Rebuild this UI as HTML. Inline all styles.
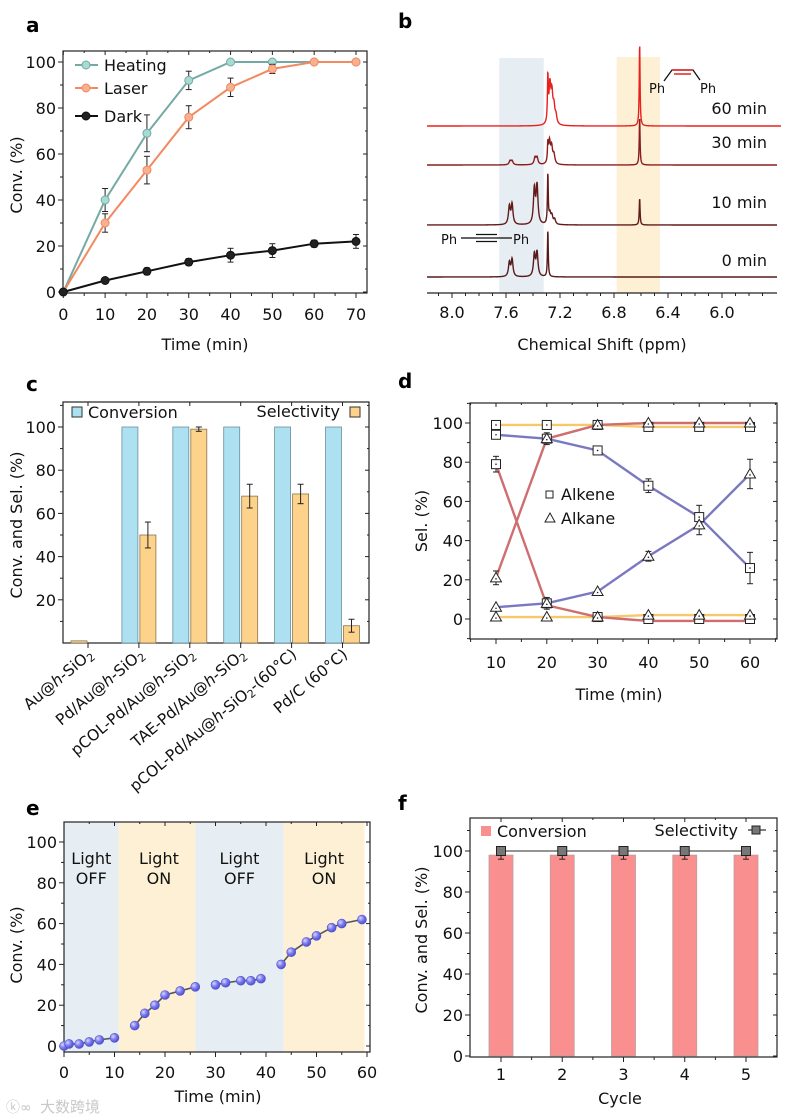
<!DOCTYPE html>
<html><head><meta charset="utf-8">
<style>
html,body{margin:0;padding:0;background:#fff;}
svg{display:block;font-family:"DejaVu Sans","Liberation Sans","Noto Sans CJK SC",sans-serif;}
</style></head>
<body>
<svg id="fig" width="797" height="1120" viewBox="0 0 797 1120" xmlns="http://www.w3.org/2000/svg"></svg>
<script>
// ---------- data: panel a ----------
const aTime=[0,10,20,30,40,50,60,70];
const aHeating=[0,40,69,92,100,100,100,100];
const aHeatErr=[0,5,8,4,0,0,0,0];
const aLaser=[0,30,53,76,89,97,100,100];
const aLaserErr=[0,4,6,5,4,2,0,0];
const aDark=[0,5,9,13,16,18,21,22];
const aDarkErr=[0,1,1.5,1.5,3,3,1.5,3];
const aXTicks=[0,10,20,30,40,50,60,70];
const aYTicks=[0,20,40,60,80,100];
// ---------- data: panel b (peaks: ppm, height) ----------
const bLabels=['60 min','30 min','10 min','0 min'];
const bOffsets=[126,165,225,277];
const bPeaks60=[[7.29,45],[7.275,38],[7.26,28],[7.245,16],[7.23,8],[6.61,83]];
const bPeaks30=[[7.29,18],[7.278,22],[7.262,16],[7.245,9],[7.57,4],[7.555,4],[7.385,7],[7.37,7],[6.61,48]];
const bPeaks10=[[7.29,50],[7.275,10],[7.26,8],[7.24,5],[7.575,18],[7.555,20],[7.39,35],[7.37,38],[6.61,27]];
const bPeaks0=[[7.29,47],[7.575,14],[7.555,17],[7.39,22],[7.37,24]];
const bXTicks=[8.0,7.6,7.2,6.8,6.4,6.0];
const bNarrow=[7.29,6.61];
// ---------- data: panel c ----------
const cCats=['Au@h-SiO2','Pd/Au@h-SiO2','pCOL-Pd/Au@h-SiO2','TAE-Pd/Au@h-SiO2','pCOL-Pd/Au@h-SiO2-(60°C)','Pd/C (60°C)'];
const cConv=[1,100,100,100,100,100];
const cSel=[0,50,99,68,69,8];
const cSelErr=[0,6,1,5.5,4.5,3];
const cYTicks=[20,40,60,80,100];
// ---------- data: panel d ----------
const dTime=[10,20,30,40,50,60];
const dYellowAlkene=[99,99,99,98,98,98];
const dYellowAlkane=[1,1,1,2,2,2];
const dRedAlkane=[21,92,99,100,100,100];
const dRedAlkaneErr=[3.5,3,0,0,0,0];
const dRedAlkene=[79,7,1,-1,-1,-1];
const dRedAlkeneMarks=[79,8,1,0,0,0];
const dRedAlkeneErr=[4,3,0,0,0,0];
const dBlueAlkene=[94,92,86,68,52,26];
const dBlueAlkeneErr=[0,0,1,3.5,6,8];
const dBlueAlkane=[6,8,14,32,48,74];
const dBlueAlkaneErr=[0,0,0,2.5,5,7.5];
const dYTicks=[0,20,40,60,80,100];
// ---------- data: panel e ----------
const eSegT=[[0,1,3,5,7,10],[14,16,18,20,23,26],[30,32,35,37,39],[43,45,48,50,53,55,59]];
const eSegV=[[0,1,1,2,3,4],[10,16,20,25,27,29],[30,31,32,32,33],[40,46,51,54,58,60,62]];
const eBands=[[0,10.8,'off'],[10.8,26,'on'],[26,43.5,'off'],[43.5,59.5,'on']];
const eXTicks=[0,10,20,30,40,50,60];
const eYTicks=[0,20,40,60,80,100];
// ---------- data: panel f ----------
const fCycle=[1,2,3,4,5];
const fConv=[98,98,98,98,98];
const fConvErr=[2,2,2,2,2];
const fSel=[100,100,100,100,100];
const fYTicks=[0,20,40,60,80,100];

const NS='http://www.w3.org/2000/svg';
const svg=document.getElementById('fig');
function E(tag,a,p){const el=document.createElementNS(NS,tag);for(const k in a)el.setAttribute(k,a[k]);(p||svg).appendChild(el);return el;}
function T(txt,a,p){const el=E('text',a,p);el.textContent=txt;return el;}
function lin(d0,d1,r0,r1){return v=>r0+(v-d0)*(r1-r0)/(d1-d0);}
const FS=16;

function panelLetter(ch,x,y){const t=T(ch,{x:x,y:y,'font-size':20,'font-weight':'bold',fill:'#000'});

}

function frame(g,x0,y0,x1,y1){const r=E('rect',{x:x0,y:y0,width:x1-x0,height:y1-y0,fill:'none',stroke:'#222','stroke-width':1.2},g);

}

function yAxis(g,sy,x0,x1,ticks,minor,labels){
  const ag=E('g',{},g);
  
  
  ticks.forEach(v=>{const y=sy(v);E('line',{x1:x0-5,y1:y,x2:x0,y2:y,stroke:'#222'},ag);E('line',{x1:x1,y1:y,x2:x1-4,y2:y,stroke:'#222'},ag);
    if(labels){const t=T(String(v),{x:x0-7,y:y+6,'font-size':FS,'text-anchor':'end',fill:'#111'},ag);
    
    }});
  minor.forEach(v=>{const y=sy(v);E('line',{x1:x0-3,y1:y,x2:x0,y2:y,stroke:'#222'},ag);E('line',{x1:x1,y1:y,x2:x1-2,y2:y,stroke:'#222'},ag);});
}
function xAxis(g,sx,y0,y1,ticks,minor,ly,fmt){
  const ag=E('g',{},g);
  
  
  ticks.forEach(v=>{const x=sx(v);E('line',{x1:x,y1:y0,x2:x,y2:y0+5,stroke:'#222'},ag);if(y1!==null)E('line',{x1:x,y1:y1,x2:x,y2:y1+4,stroke:'#222'},ag);
    if(ly){const t=T(fmt?fmt(v):String(v),{x:x,y:ly,'font-size':FS,'text-anchor':'middle',fill:'#111'},ag);
    
    }});
  minor.forEach(v=>{const x=sx(v);E('line',{x1:x,y1:y0,x2:x,y2:y0+3,stroke:'#222'},ag);if(y1!==null)E('line',{x1:x,y1:y1,x2:x,y2:y1+2,stroke:'#222'},ag);});
}
function title(g,txt,x,y,rot,name){const t=T(txt,{x:x,y:y,'font-size':FS,'text-anchor':'middle',fill:'#111',transform:rot?`rotate(-90 ${x} ${y})`:''},g);

return t;}
function errBar(g,x,y1,y2,w){E('line',{x1:x,y1:y1,x2:x,y2:y2,stroke:'#222','stroke-width':1},g);E('line',{x1:x-w,y1:y1,x2:x+w,y2:y1,stroke:'#222'},g);E('line',{x1:x-w,y1:y2,x2:x+w,y2:y2,stroke:'#222'},g);}
function range(a,b,s){const r=[];for(let v=a;v<=b+1e-9;v+=s)r.push(+v.toFixed(4));return r;}

// ================= Panel a =================
(function(){
const g=E('g',{});


panelLetter('a',26,32);
const sx=lin(0,70,63.3,356),sy=lin(0,100,292,62);
frame(g,63,51,367,293);
yAxis(g,sy,63,367,aYTicks,range(10,110,20).filter(v=>sy(v)>51),true);
xAxis(g,sx,293,51,aXTicks,range(5,65,10),320);
title(g,'Time (min)',205,350,false,'x-axis-title');
title(g,'Conv. (%)',22,175,true,'y-axis-title');
const series=[[aHeating,aHeatErr,'#74a9a4','#a6dcd4','heating'],[aLaser,aLaserErr,'#f2895f','#f8b090','laser'],[aDark,aDarkErr,'#111','#222','dark']];
series.forEach(([vals,errs,col,fill,nm])=>{
  const sg=E('g',{},g);
  
  
  vals.forEach((v,i)=>{if(errs[i]>0)errBar(sg,sx(aTime[i]),sy(v+errs[i]),sy(v-errs[i]),3);});
  const pl=E('polyline',{points:vals.map((v,i)=>sx(aTime[i])+','+sy(v)).join(' '),fill:'none',stroke:col,'stroke-width':2},sg);
  
  
  vals.forEach((v,i)=>{const c=E('circle',{cx:sx(aTime[i]),cy:sy(v),r:4,fill:fill,stroke:col,'stroke-width':1},sg);
  
  });
});
const leg=[['Heating','#74a9a4','#a6dcd4',65],['Laser','#f2895f','#f8b090',88],['Dark','#111','#222',116]];
leg.forEach(([t,c,f,y])=>{const lg=E('g',{},g);
  
  
  E('line',{x1:75,y1:y,x2:98,y2:y,stroke:c,'stroke-width':2},lg);E('circle',{cx:86,cy:y,r:4,fill:f,stroke:c},lg);
  T(t,{x:104,y:y+6,'font-size':FS,fill:'#111'},lg);});
})();

// ================= Panel b =================
(function(){
const g=E('g',{});


panelLetter('b',398,28);
const sx=lin(8.0,6.0,452,722);
const bb=E('rect',{x:sx(7.65),y:58,width:sx(7.32)-sx(7.65),height:235,fill:'#e7eef3'},g);


const ob=E('rect',{x:sx(6.78),y:57,width:sx(6.46)-sx(6.78),height:236,fill:'#fdf0d4'},g);


E('line',{x1:427,y1:293,x2:777,y2:293,stroke:'#222','stroke-width':1.3},g);
xAxis(g,sx,293,null,bXTicks,range(5.7,8.1,0.1).filter(v=>Math.abs((v*10)%4)>0.01),318,v=>v.toFixed(1));
title(g,'Chemical Shift (ppm)',602,350,false,'x-axis-title');
const peaks=[bPeaks60,bPeaks30,bPeaks10,bPeaks0];
const cols=['#e8201e','#8c1d1f','#621a1b','#561a1c'];
const ends=[781,777,777,777];
peaks.forEach((pk,si)=>{
  const pts=[];
  for(let x=427;x<=ends[si];x+=0.25){
    const ppm=8.0+(x-452)*(-2.0/270);
    let y=bOffsets[si];
    pk.forEach(([p,h])=>{const w=bNarrow.includes(p)?0.0035:0.008;y-=h/(1+Math.pow((ppm-p)/w,2));});
    pts.push(x.toFixed(2)+','+y.toFixed(2));
  }
  const pl=E('polyline',{points:pts.join(' '),fill:'none',stroke:cols[si],'stroke-width':1.4},g);
  
  
});
const ly=[114,148,208,266];
bLabels.forEach((l,i)=>{const t=T(l,{x:767,y:ly[i],'font-size':FS,'text-anchor':'end',fill:'#111'},g);

});
const s1=E('g',{},g);


T('Ph',{x:441,y:244,'font-size':13,fill:'#111'},s1);
E('line',{x1:461,y1:238,x2:476,y2:238,stroke:'#111','stroke-width':1.3},s1);
[234.5,238,241.5].forEach(y=>E('line',{x1:476,y1:y,x2:497,y2:y,stroke:'#111','stroke-width':1.3},s1));
E('line',{x1:497,y1:238,x2:512,y2:238,stroke:'#111','stroke-width':1.3},s1);
T('Ph',{x:513,y:244,'font-size':13,fill:'#111'},s1);
const s2=E('g',{},g);


T('Ph',{x:649,y:93,'font-size':13,fill:'#111'},s2);
E('polyline',{points:'664,81 672,70 693,70 700,80',fill:'none',stroke:'#111','stroke-width':1.3},s2);
E('line',{x1:672,y1:70,x2:693,y2:70,stroke:'#e8201e','stroke-width':1.6},s2);
E('line',{x1:674,y1:74,x2:691,y2:74,stroke:'#e8201e','stroke-width':1.6},s2);
T('Ph',{x:700,y:93,'font-size':13,fill:'#111'},s2);
})();

// ================= Panel c =================
(function(){
const g=E('g',{});


panelLetter('c',26,391);
const sy=lin(0,100,643,427);
const cx=i=>88+i*50.9;
frame(g,63,402,369,643);
yAxis(g,sy,63,369,cYTicks,range(10,110,10).filter(v=>v%20!==0&&sy(v)>402),true);
xAxis(g,cx,643,402,cCats.map((c,i)=>i),[],null);
title(g,'Conv. and Sel. (%)',22,525,true,'y-axis-title');
cCats.forEach((c,i)=>{
  const x=cx(i);
  const cv=E('rect',{x:x-17,y:sy(cConv[i]),width:16,height:sy(0)-sy(cConv[i]),fill:i===0?'#f9d690':'#ade0f0',stroke:i===0?'#8a7450':'#6a8f9c','stroke-width':0.8},g);
  
  
  if(cSel[i]>0){const sv=E('rect',{x:x+1,y:sy(cSel[i]),width:16,height:sy(0)-sy(cSel[i]),fill:'#fdd28a',stroke:'#8a7450','stroke-width':0.8},g);
  
  
  errBar(g,x+9,sy(cSel[i]+cSelErr[i]),sy(cSel[i]-cSelErr[i]),3);}
  const parts=c.split('SiO2');
  const t=E('text',{x:x+6,y:656,'font-size':15.5,'text-anchor':'end',fill:'#111',transform:`rotate(-40 ${x+6} 656)`},g);
  
  
  const hSplit=parts[0].split('@h-');
  if(hSplit.length>1){
    const a=E('tspan',{},t);a.textContent=hSplit[0]+'@';
    const h=E('tspan',{'font-style':'italic'},t);h.textContent='h';
    const b=E('tspan',{},t);b.textContent='-SiO';
    const s=E('tspan',{'font-size':11,dy:3},t);s.textContent='2';
    if(parts[1]){const r=E('tspan',{dy:-3},t);r.textContent=parts[1];}
  } else { t.textContent=c; }
});
const l1=E('g',{},g);


E('rect',{x:72,y:407,width:10,height:10,fill:'#ade0f0',stroke:'#333'},l1);
T('Conversion',{x:88,y:418,'font-size':FS,fill:'#111'},l1);
const l2=E('g',{},g);


T('Selectivity',{x:340,y:417,'font-size':FS,'text-anchor':'end',fill:'#111'},l2);
E('rect',{x:350,y:407,width:10,height:10,fill:'#fdd28a',stroke:'#333'},l2);
})();

// ================= Panel d =================
(function(){
const g=E('g',{});


panelLetter('d',398,388);
const sx=lin(10,60,496,750),sy=lin(0,100,619,423);
frame(g,470,403,777,639);
yAxis(g,sy,470,777,dYTicks,range(-10,110,20),true);
xAxis(g,sx,639,403,dTime,range(5,65,10),668);
title(g,'Time (min)',619,700,false,'x-axis-title');
title(g,'Sel. (%)',427,521,true,'y-axis-title');
function line(vals,col,nm){const pl=E('polyline',{points:vals.map((v,i)=>sx(dTime[i])+','+sy(v)).join(' '),fill:'none',stroke:col,'stroke-width':2.4},g);

}
function sq(vals,nm){vals.forEach((v,i)=>{const x=sx(dTime[i]),y=sy(v);const r=E('rect',{x:x-4.5,y:y-4.5,width:9,height:9,fill:'#fff',stroke:'#222'},g);


E('circle',{cx:x,cy:y,r:0.8,fill:'#222'},g);});}
function tri(vals,nm){vals.forEach((v,i)=>{const x=sx(dTime[i]),y=sy(v);const p=E('polygon',{points:`${x},${y-5.5} ${x-5.5},${y+4} ${x+5.5},${y+4}`,fill:'#fff',stroke:'#222'},g);


E('circle',{cx:x,cy:y+1,r:0.8,fill:'#222'},g);});}
function errs(vals,e){vals.forEach((v,i)=>{if(e[i]>0)errBar(g,sx(dTime[i]),sy(v+e[i]),sy(v-e[i]),3);});}
line(dYellowAlkene,'#f6c86a','yellow-alkene');
line(dYellowAlkane,'#f6c86a','yellow-alkane');
line(dRedAlkane,'#cf6e6e','red-alkane');
line(dRedAlkene,'#cf6e6e','red-alkene');
line(dBlueAlkene,'#7b78c2','blue-alkene');
line(dBlueAlkane,'#7b78c2','blue-alkane');
errs(dRedAlkane,dRedAlkaneErr);errs(dRedAlkeneMarks,dRedAlkeneErr);errs(dBlueAlkene,dBlueAlkeneErr);errs(dBlueAlkane,dBlueAlkaneErr);
sq(dYellowAlkene,'yellow-alkene');sq(dRedAlkeneMarks,'red-alkene');sq(dBlueAlkene,'blue-alkene');
tri(dYellowAlkane,'yellow-alkane');tri(dRedAlkane,'red-alkane');tri(dBlueAlkane,'blue-alkane');
const l1=E('g',{},g);


E('rect',{x:546,y:491,width:7,height:7,fill:'#fff',stroke:'#222'},l1);
T('Alkene',{x:561,y:500,'font-size':FS,fill:'#111'},l1);
const l2=E('g',{},g);


E('polygon',{points:'550,513 545,522 555,522',fill:'#fff',stroke:'#222'},l2);
T('Alkane',{x:561,y:524,'font-size':FS,fill:'#111'},l2);
})();

// ================= Panel e =================
(function(){
const g=E('g',{});


panelLetter('e',26,815);
const sx=lin(0,60,64,367),sy=lin(0,100,1046,842);
eBands.forEach(([a,b,k],i)=>{const r=E('rect',{x:sx(a),y:822,width:sx(b)-sx(a),height:230,fill:k==='on'?'#fdf0d4':'#e7eef3'},g);


const cxm=(sx(a)+sx(b))/2+(i===1?2:0);
const t1=T('Light',{x:cxm,y:864,'font-size':FS,'text-anchor':'middle',fill:'#111'},g);


const t2=T(k==='on'?'ON':'OFF',{x:cxm,y:884,'font-size':FS,'text-anchor':'middle',fill:'#111'},g);

});
frame(g,64,822,370,1052);
yAxis(g,sy,64,370,eYTicks,range(10,110,20).filter(v=>sy(v)>822),true);
xAxis(g,sx,1052,822,eXTicks,range(5,55,10),1078);
title(g,'Time (min)',218,1102,false,'x-axis-title');
title(g,'Conv. (%)',22,945,true,'y-axis-title');
E('defs',{},svg).innerHTML='<radialGradient id="ball" cx="0.35" cy="0.35" r="0.7"><stop offset="0" stop-color="#d8d8ff"/><stop offset="0.5" stop-color="#7a7af0"/><stop offset="1" stop-color="#4b4bc8"/></radialGradient>';
eSegT.forEach((ts,si)=>{
  const pl=E('polyline',{points:ts.map((t,i)=>sx(t)+','+sy(eSegV[si][i])).join(' '),fill:'none',stroke:'#555','stroke-width':1.6},g);
  
  
  ts.forEach((t,i)=>{const c=E('circle',{cx:sx(t),cy:sy(eSegV[si][i]),r:4.5,fill:'url(#ball)',stroke:'#5555cc','stroke-width':0.6},g);
  
  });
});
const wm=T('大数跨境',{x:40,y:1112,'font-size':15,fill:'#c8c8c8'},g);


const wm2=T('ⓚ∞',{x:6,y:1112,'font-size':14,fill:'#c8c8c8'},g);


})();

// ================= Panel f =================
(function(){
const g=E('g',{});


panelLetter('f',398,810);
const sx=lin(1,5,501,746),sy=lin(0,100,1056,851);
frame(g,470,818,777,1057);
yAxis(g,sy,470,777,fYTicks,range(10,110,20).filter(v=>sy(v)>818),true);
xAxis(g,sx,1057,818,fCycle,range(1.5,4.5,1),1080);
title(g,'Cycle',620,1104,false,'x-axis-title');
title(g,'Conv. and Sel. (%)',427,940,true,'y-axis-title');
fCycle.forEach((c,i)=>{const x=sx(c);
  const r=E('rect',{x:x-12,y:sy(fConv[i]),width:24,height:sy(0)-sy(fConv[i]),fill:'#f98f8f',stroke:'#b9a0a0','stroke-width':0.8},g);
  
  
  errBar(g,x,sy(fConv[i]+fConvErr[i]),sy(fConv[i]-fConvErr[i]),3);});
const pl=E('polyline',{points:fCycle.map((c,i)=>sx(c)+','+sy(fSel[i])).join(' '),fill:'none',stroke:'#555','stroke-width':1.2},g);


fCycle.forEach((c,i)=>{const m=E('rect',{x:sx(c)-4.5,y:sy(fSel[i])-4.5,width:9,height:9,fill:'#777',stroke:'#222'},g);

});
const l1=E('g',{},g);


E('rect',{x:481,y:826,width:10,height:10,fill:'#f98f8f'},l1);
T('Conversion',{x:497,y:837,'font-size':FS,fill:'#111'},l1);
const l2=E('g',{},g);


T('Selectivity',{x:738,y:836,'font-size':FS,'text-anchor':'end',fill:'#111'},l2);
E('line',{x1:748,y1:830,x2:766,y2:830,stroke:'#333','stroke-width':1.2},l2);
E('rect',{x:752,y:826,width:8,height:8,fill:'#777',stroke:'#222'},l2);
})();
</script>
</body></html>
